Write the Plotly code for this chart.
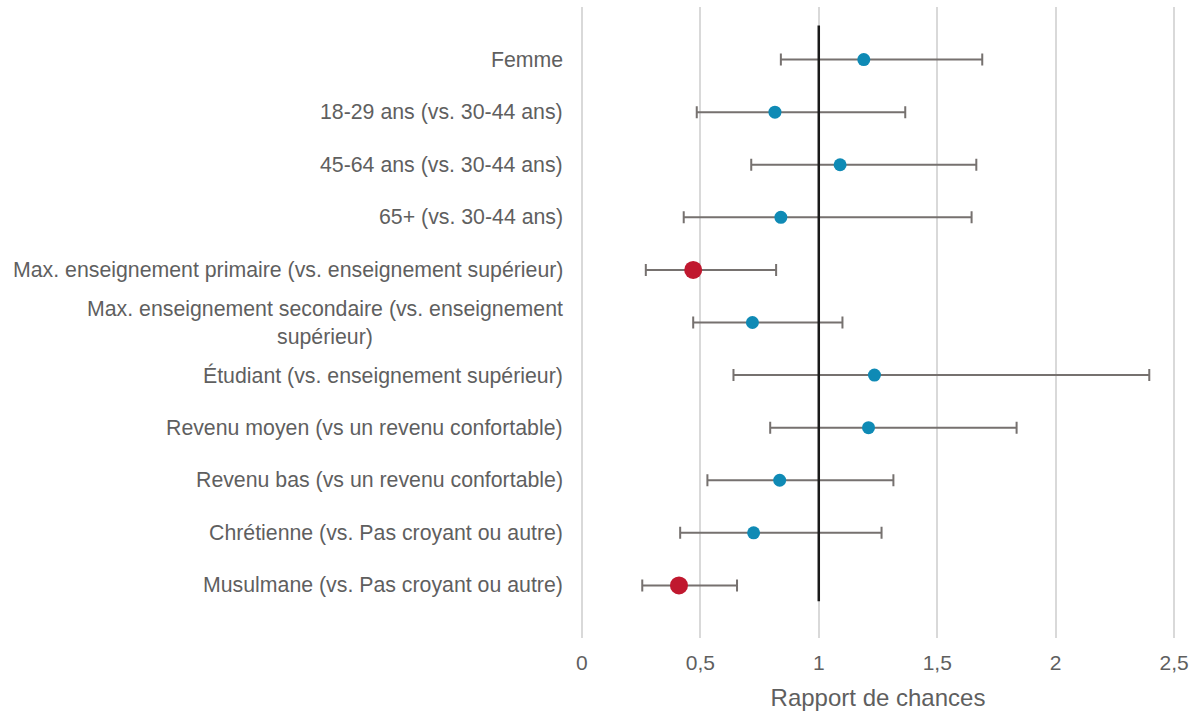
import plotly.graph_objects as go

# Odds ratios with 95% confidence intervals
categories = [
    "Femme",
    "18-29 ans (vs. 30-44 ans)",
    "45-64 ans (vs. 30-44 ans)",
    "65+ (vs. 30-44 ans)",
    "Max. enseignement primaire (vs. enseignement supérieur)",
    "Max. enseignement secondaire (vs. enseignement<br>supérieur)",
    "Étudiant (vs. enseignement supérieur)",
    "Revenu moyen (vs un revenu confortable)",
    "Revenu bas (vs un revenu confortable)",
    "Chrétienne (vs. Pas croyant ou autre)",
    "Musulmane (vs. Pas croyant ou autre)",
]
odds_ratio = [1.19, 0.815, 1.09, 0.84, 0.47, 0.72, 1.235, 1.21, 0.835, 0.725, 0.41]
ci_low = [0.84, 0.485, 0.715, 0.43, 0.27, 0.47, 0.64, 0.795, 0.53, 0.415, 0.255]
ci_high = [1.69, 1.365, 1.665, 1.645, 0.82, 1.10, 2.395, 1.835, 1.315, 1.265, 0.655]

x_ticks = [0, 0.5, 1, 1.5, 2, 2.5]
x_ticklabels = ["0", "0,5", "1", "1,5", "2", "2,5"]

BLUE = "#0f8ab5"
RED = "#c0182f"
GREY_TEXT = "#5f5f5f"
ERR = "#76716f"
FONT = "Liberation Sans, Arial, sans-serif"

rows = list(range(len(categories)))
significant = [hi < 1 for hi in ci_high]
colors = [RED if s else BLUE for s in significant]
sizes = [18 if s else 13 for s in significant]

fig = go.Figure()
fig.add_trace(
    go.Scatter(
        x=odds_ratio,
        y=rows,
        mode="markers",
        marker=dict(color=colors, size=sizes, opacity=1, line=dict(width=0)),
        error_x=dict(
            type="data",
            symmetric=False,
            array=[h - v for h, v in zip(ci_high, odds_ratio)],
            arrayminus=[v - l for v, l in zip(odds_ratio, ci_low)],
            color=ERR,
            thickness=2,
            width=6,
        ),
        showlegend=False,
        hoverinfo="skip",
    )
)

# reference line at OR = 1
fig.add_shape(
    type="line", xref="x", yref="y",
    x0=1, x1=1, y0=-0.65, y1=10.3,
    line=dict(color="#1a1a1a", width=2.5),
    layer="above",
)

# category labels, right-aligned against the plot area
for i, label in enumerate(categories):
    fig.add_annotation(
        xref="paper", yref="y", x=0, y=i,
        text=label, showarrow=False,
        xanchor="right", yanchor="middle", align="center",
        xshift=-14,
        font=dict(family=FONT, size=21.3, color=GREY_TEXT),
    )

fig.update_layout(
    width=1200,
    height=715,
    margin=dict(l=579, r=23, t=7, b=77),
    paper_bgcolor="white",
    plot_bgcolor="white",
    font=dict(family=FONT, size=21, color=GREY_TEXT),
    xaxis=dict(
        range=[-0.012, 2.512],
        tickvals=x_ticks,
        ticktext=x_ticklabels,
        showgrid=True,
        gridcolor="#d9d9d9",
        gridwidth=2,
        zeroline=False,
        showline=False,
        ticks="",
        ticklabelstandoff=10,
        tickfont=dict(size=21, color=GREY_TEXT),
        title=dict(text="Rapport de chances", font=dict(size=24, color=GREY_TEXT), standoff=16),
    ),
    yaxis=dict(
        range=[11, -1],
        showgrid=False,
        zeroline=False,
        showline=False,
        showticklabels=False,
        ticks="",
    ),
)

fig.write_html("out.html")
